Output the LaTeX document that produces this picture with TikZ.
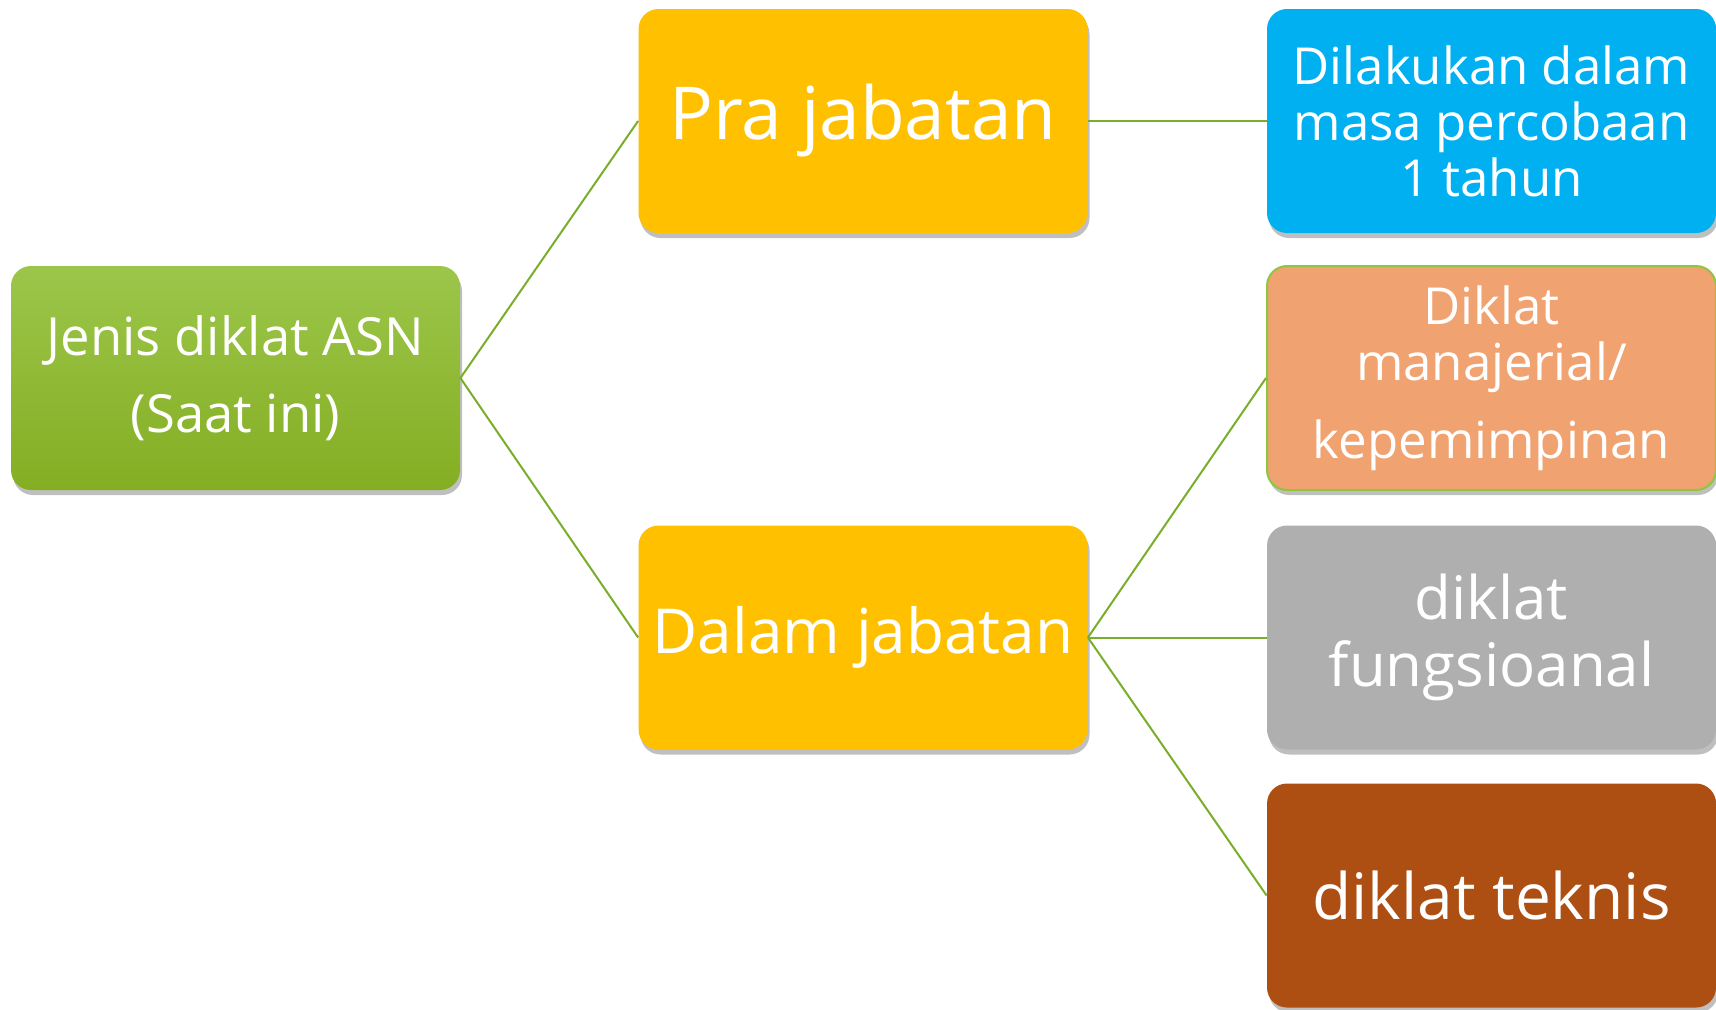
\documentclass[tikz,border=0pt]{standalone}
\usepackage{fontspec}
\setmainfont{Open Sans}
\usepackage{tikz}
\usetikzlibrary{positioning,shadows}

\definecolor{rootTop}{HTML}{9CC64A}
\definecolor{rootBot}{HTML}{84AE22}
\definecolor{praYel}{HTML}{FFC000}
\definecolor{cobaBlue}{HTML}{00B0F0}
\definecolor{mnjPeach}{HTML}{F0A271}
\definecolor{mnjEdge}{HTML}{8EC63F}
\definecolor{fungGray}{HTML}{AFAFAF}
\definecolor{tekRust}{HTML}{AD4E13}
\definecolor{lnGreen}{HTML}{7AAE2A}

\begin{document}
\begin{tikzpicture}[
  x=0.5pt, y=-0.5pt,
  box/.style  = {rounded corners=10pt, minimum width=224.5pt,
                 minimum height=112pt, align=center, inner sep=0pt,
                 text=white, draw=none,
                 drop shadow={shadow xshift=1pt, shadow yshift=-2.5pt,
                              opacity=0.25, fill=black}},
  big/.style  = {box, font=\fontsize{32}{36}\selectfont},
  small/.style= {box, font=\fontsize{25.5}{28}\selectfont},
  ln/.style   = {draw=lnGreen, line width=1pt},
]
  \useasboundingbox (0,0) rectangle (1716,1009);

  % ---- root -------------------------------------------------
  \node[small, top color=rootTop, bottom color=rootBot,
        font=\fontsize{26.3}{38.5}\selectfont]
       (root) at (235.5, 378) {Jenis diklat ASN\\(Saat ini)};

  % ---- middle level -----------------------------------------
  \node[big, fill=praYel, font=\fontsize{36.5}{40}\selectfont]
       (pra)   at (863, 121)   {Pra jabatan};
  \node[big, fill=praYel, font=\fontsize{31}{34}\selectfont]
       (dalam) at (863, 637.5) {Dalam jabatan};

  % ---- right column -----------------------------------------
  \node[small, fill=cobaBlue]
       (coba) at (1491.5, 121)   {Dilakukan dalam\\masa percobaan\\1 tahun};
  \node[small, fill=mnjPeach, draw=mnjEdge, line width=1pt]
       (mnj)  at (1491.5, 378)   {Diklat\\manajerial/\\[11pt]kepemimpinan};
  \node[big, fill=fungGray, font=\fontsize{30}{33.5}\selectfont]
       (fung) at (1491.5, 637.5) {diklat\\fungsioanal};
  \node[big, fill=tekRust]
       (tek)  at (1491.5, 895.5) {diklat teknis};

  % ---- connectors -------------------------------------------
  \draw[ln] (root.east)  -- (pra.west);
  \draw[ln] (root.east)  -- (dalam.west);
  \draw[ln] (pra.east)   -- (coba.west);
  \draw[ln] (dalam.east) -- (mnj.west);
  \draw[ln] (dalam.east) -- (fung.west);
  \draw[ln] (dalam.east) -- (tek.west);

\end{tikzpicture}
\end{document}
